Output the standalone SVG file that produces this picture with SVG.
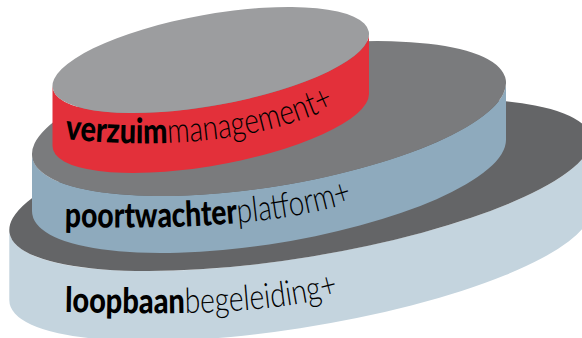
<svg xmlns="http://www.w3.org/2000/svg" width="582" height="338" viewBox="0 0 582 338">
<style>
.lbl{font-family:Lato,"Liberation Sans","DejaVu Sans",sans-serif;font-size:35px;font-style:normal;fill:#000}
.b{font-weight:900;font-style:normal}
.l{font-weight:300;font-style:normal}
</style>
<defs>
<path id="tp1" d="M65,139 C120,145 240,152 335,106"/>
<path id="tp2" d="M65,227 C140,228 270,231 360,199"/>
<path id="tp3" d="M65,312 C140,313 260,319 345,293"/>
</defs>
<rect width="582" height="338" fill="#fff"/>
<g id="disc-loopbaan">
<path d="M9.3,230 L9.3,300 A293,72.05 -9.37 0 0 590.7,210 L590.7,140 A293,72.05 -9.37 0 1 9.3,230 Z" fill="#c4d4de"/>
<ellipse cx="300" cy="185" rx="294.4" ry="72.4" transform="rotate(-9.37 300 185)" fill="#646567"/>
<text class="lbl"><textPath href="#tp3"><tspan class="b" textLength="120" lengthAdjust="spacingAndGlyphs">loopbaan</tspan><tspan class="l" textLength="155" lengthAdjust="spacingAndGlyphs">begeleiding+</tspan></textPath></text>
</g>
<g id="disc-poortwachter">
<path d="M32,154 L32,211 A239,67.85 -9.27 0 0 506,140 L506,83 A239,67.85 -9.27 0 1 32,154 Z" fill="#8eaabd"/>
<ellipse cx="269" cy="118.5" rx="239.9" ry="68.1" transform="rotate(-9.27 269 118.5)" fill="#7a7b7d"/>
<text class="lbl"><textPath href="#tp2"><tspan class="b" textLength="173" lengthAdjust="spacingAndGlyphs">poortwachter</tspan><tspan class="l" textLength="117" lengthAdjust="spacingAndGlyphs">platform+</tspan></textPath></text>
</g>
<g id="disc-verzuim">
<path d="M52.5,86 L52.5,146 A160,45.33 -10.15 0 0 369,94 L369,34 A160,45.33 -10.15 0 1 52.5,86 Z" fill="#e3303a"/>
<ellipse cx="210.75" cy="60" rx="160.6" ry="45.5" transform="rotate(-10.15 210.75 60)" fill="#9c9d9f"/>
<text class="lbl"><textPath href="#tp1"><tspan class="b" textLength="103" lengthAdjust="spacingAndGlyphs">verzuim</tspan><tspan class="l" textLength="172" lengthAdjust="spacingAndGlyphs">management+</tspan></textPath></text>
</g>
</svg>
